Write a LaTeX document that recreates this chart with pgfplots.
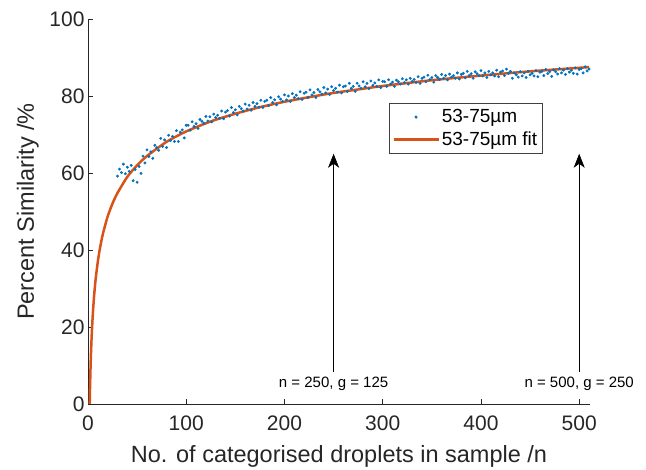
\documentclass[border=0pt]{standalone}
\usepackage{fontspec}
\setmainfont{Liberation Sans}
\usepackage{pgfplots}
\pgfplotsset{compat=1.18}
\usetikzlibrary{arrows.meta}
\definecolor{mblue}{HTML}{0072BD}
\definecolor{morange}{HTML}{D95319}
\definecolor{axgray}{HTML}{262626}
\pgfplotsset{
  scatleg/.style={legend image code/.code={\draw[mark repeat=2,mark phase=2,##1] plot coordinates {(0pt,0pt) (22.5pt,0pt) (45pt,0pt)};}},
  lineleg/.style={legend image code/.code={\draw[##1] (0pt,0pt) -- (45pt,0pt);}},
}
\begin{document}
\begin{tikzpicture}
\begin{axis}[name=ax, at={(0pt,0pt)}, anchor=south west,
  scale only axis, width=502pt, height=385pt,
  xmin=0, xmax=511, ymin=0, ymax=100,
  axis lines=left, axis line style={-, axgray, line width=0.8pt},
  xtick={0,100,...,500}, ytick={0,20,...,100},
  tick align=inside, major tick length=5pt,
  tick style={axgray, line width=0.8pt},
  tick label style={font=\fontsize{21}{24}\selectfont, text=axgray},
  /pgf/number format/assume math mode=true,
  xticklabel style={yshift=-8pt},
  clip=false,
  legend cell align=left,
  legend style={at={(0.5996,0.782)}, anchor=north west, draw=black!75, line width=0.6pt,
    fill=white, inner xsep=3pt, inner ysep=4.5pt, row sep=3.5pt,
    font=\fontsize{19}{22}\selectfont,
    /tikz/every even column/.append style={column sep=4pt}},
]
\addplot[only marks, color=mblue, mark=*, mark size=1.25pt, mark options={draw=none, fill=mblue}, scatleg]
table {
30 59.2
32 61.0
34 60.1
36 62.3
38 59.8
40 61.5
42 60.4
44 62.0
46 58.0
48 60.9
50 57.6
52 61.7
54 59.9
56 64.4
58 62.6
60 66.0
62 64.3
64 65.5
66 63.8
68 67.2
70 66.6
72 65.9
74 69.0
76 66.9
78 68.6
80 66.6
82 69.8
84 68.4
86 69.5
88 68.2
90 71.0
92 68.2
94 70.6
96 71.2
98 69.1
100 72.4
102 72.4
104 71.1
106 73.3
108 72.1
110 72.8
112 71.6
114 73.9
116 73.4
118 72.9
120 74.7
122 73.5
124 74.6
126 73.3
128 75.3
130 74.4
132 75.0
134 74.2
136 76.1
138 74.1
140 75.8
142 76.2
144 74.8
146 77.0
148 75.7
150 76.4
152 75.1
154 77.3
156 76.7
158 76.1
160 77.9
162 76.6
164 77.6
166 76.3
168 78.3
170 77.3
172 78.0
174 77.1
176 78.9
178 77.0
180 78.6
182 78.9
184 77.5
186 79.6
188 78.3
190 79.0
192 77.7
194 79.8
196 79.2
198 78.6
200 80.3
202 79.0
204 80.0
206 78.6
208 80.6
210 79.6
212 80.2
214 79.3
216 81.1
218 79.1
220 80.7
222 81.0
224 79.6
226 81.6
228 80.3
230 80.9
232 79.6
234 81.7
236 81.1
238 80.5
240 82.2
242 80.8
244 81.8
246 80.4
248 82.4
250 81.4
252 82.0
254 81.0
256 82.8
258 80.8
260 82.4
262 82.6
264 81.2
266 83.3
268 82.0
270 82.5
272 81.2
274 83.3
276 82.6
278 82.0
280 83.7
282 82.4
284 83.3
286 81.9
288 83.9
290 82.8
292 83.4
294 82.5
296 84.2
298 82.2
300 83.8
302 83.7
304 82.5
306 84.2
308 83.1
310 83.6
312 82.5
314 84.1
316 83.7
318 83.1
320 84.5
322 83.5
324 84.2
326 83.1
328 84.6
330 83.8
332 84.3
334 83.5
336 85.0
338 83.3
340 84.6
342 84.9
344 83.7
346 85.4
348 84.3
350 84.8
352 83.6
354 85.3
356 84.8
358 84.3
360 85.6
362 84.6
364 85.3
366 84.2
368 85.7
370 84.9
372 85.3
374 84.6
376 86.0
378 84.4
380 85.6
382 85.9
384 84.7
386 86.4
388 85.3
390 85.8
392 84.6
394 86.3
396 85.8
398 85.3
400 86.6
402 85.2
404 86.0
406 84.8
408 86.4
410 85.5
412 86.0
414 85.2
416 86.7
418 85.0
420 86.2
422 86.5
424 85.3
426 87.0
428 85.9
430 86.4
432 84.6
434 86.0
436 85.5
438 84.9
440 86.3
442 85.2
444 86.0
446 84.8
448 86.4
450 85.5
452 85.9
454 85.2
456 86.6
458 85.0
460 86.2
462 86.4
464 85.3
466 86.9
468 85.8
470 86.3
472 85.1
474 86.8
476 86.3
478 85.7
480 87.1
482 86.0
484 86.7
486 85.6
488 87.1
490 86.2
492 86.7
494 85.9
496 87.3
498 85.7
500 86.9
502 87.1
504 86.0
506 87.6
508 86.5
510 87.0
};
\addlegendentry{53-75µm}
\addplot[morange, line width=2.5pt, smooth, tension=0.4, lineleg]
table {
1.73 0
2 3.5
2.5 8.7
3 12.9
3.5 16.2
4 19.1
5 23.7
6 27.4
7 30.4
8 32.9
10 37.0
12 40.2
15 44.0
20 48.7
25 52.1
30 54.8
40 59.0
50 62.0
60 64.4
80 68.1
100 70.8
125 73.4
150 75.4
175 77.1
200 78.5
225 79.7
250 80.8
275 81.7
300 82.6
350 84.1
400 85.3
450 86.4
510 87.5
};
\addlegendentry{53-75µm fit}
\draw[black, line width=0.6pt, -{Stealth[length=14pt,width=11pt,inset=4pt]}] (axis cs:250,8.3) -- (axis cs:250,65);
\draw[black, line width=0.6pt, -{Stealth[length=14pt,width=11pt,inset=4pt]}] (axis cs:500,8.3) -- (axis cs:500,65);
\node[anchor=base, font=\fontsize{15}{18}\selectfont, text=black] at (axis cs:250,4.2) {n = 250, g = 125};
\node[anchor=base, font=\fontsize{15}{18}\selectfont, text=black] at (axis cs:500,4.2) {n = 500, g = 250};
\end{axis}
\node[font=\fontsize{23.5}{27}\selectfont, text=axgray, anchor=base] at ([yshift=-59pt]ax.south) {No. of categorised droplets in sample /n};
\node[font=\fontsize{23.5}{27}\selectfont, text=axgray, anchor=base, rotate=90] at ([xshift=-54pt]ax.west) {Percent Similarity /\%};
\pgfresetboundingbox
\path[use as bounding box] (-88pt,-66pt) rectangle (558pt,404pt);
\end{tikzpicture}
\end{document}
